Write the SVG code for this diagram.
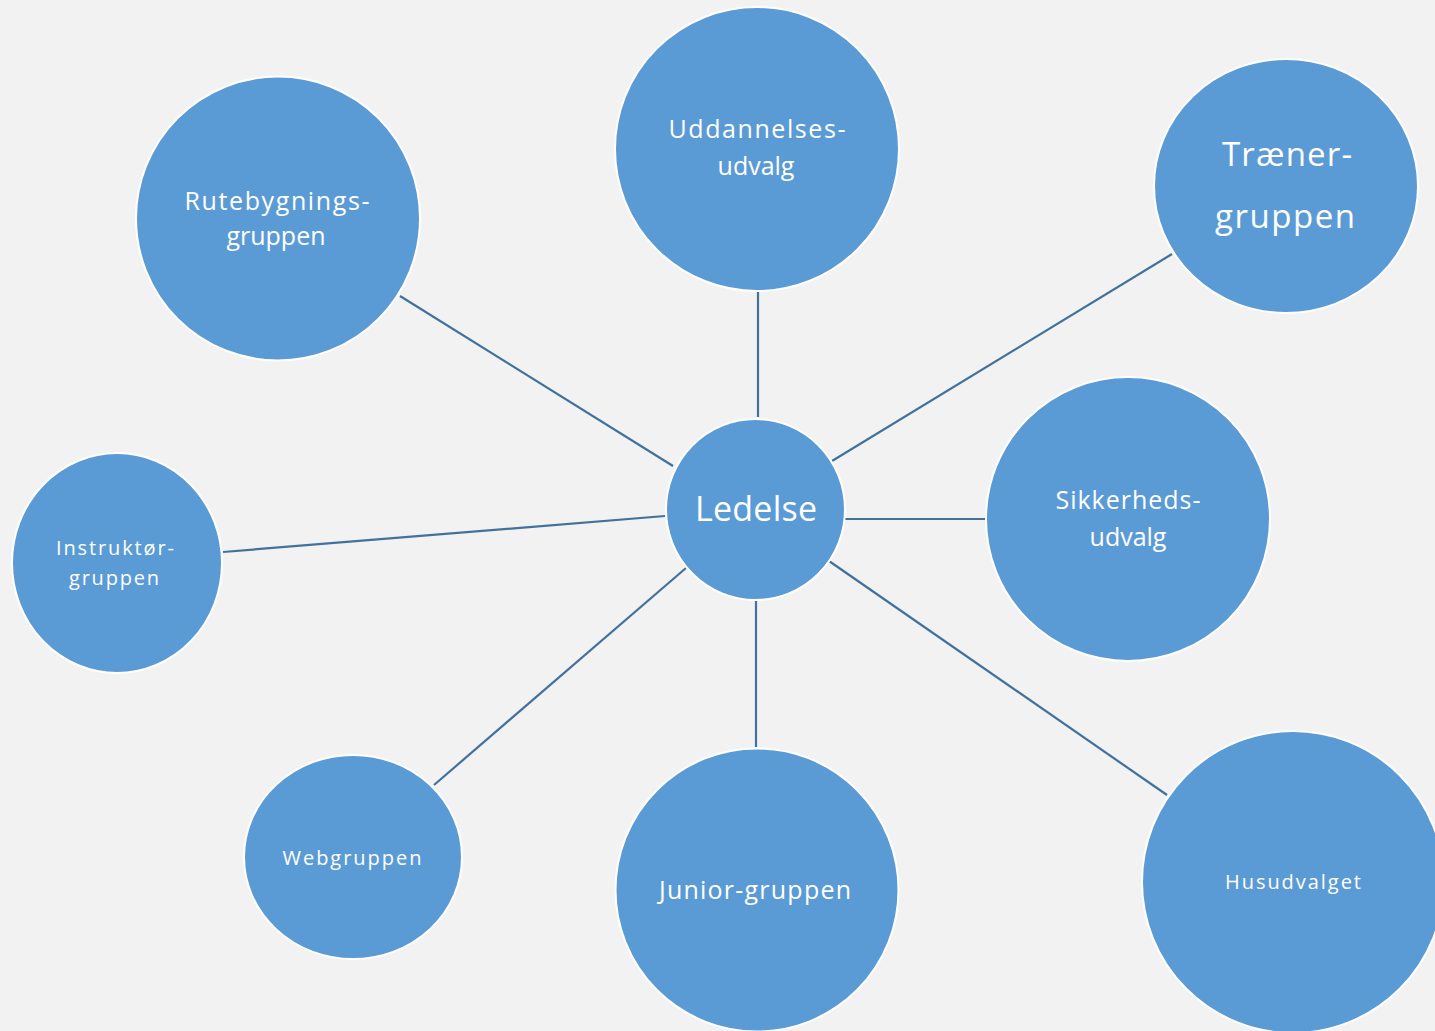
<svg xmlns="http://www.w3.org/2000/svg" width="1435" height="1031" viewBox="0 0 1435 1031">
<style>
.n{fill:#5B9BD5;stroke:#FFFFFF;stroke-width:2}
.t{fill:#FFFFFF;font-family:"Open Sans","Liberation Sans",sans-serif;text-anchor:middle}
.c line{stroke:#41719C;stroke-width:2.2}
</style>
<rect width="1435" height="1031" fill="#F2F2F2"/>
<g class="c" id="connectors">
<line x1="673" y1="466" x2="400" y2="296"/>
<line x1="758" y1="417" x2="758" y2="292"/>
<line x1="832" y1="461" x2="1172" y2="254"/>
<line x1="845" y1="519" x2="985" y2="519"/>
<line x1="665" y1="516" x2="223" y2="552"/>
<line x1="686" y1="568" x2="434" y2="785"/>
<line x1="756" y1="601" x2="756" y2="747"/>
<line x1="829" y1="561" x2="1167" y2="795"/>
</g>
<g id="ledelse"><ellipse class="n" cx="755.5" cy="509.5" rx="89.5" ry="90.5"/><text class="t" x="756" y="521" font-size="34" textLength="122">Ledelse</text></g>
<g id="uddannelses"><circle class="n" cx="757" cy="149" r="142"/><text class="t" font-size="25"><tspan x="757" y="138" textLength="177">Uddannelses-</tspan><tspan x="756" y="175">udvalg</tspan></text></g>
<g id="rutebygnings"><circle class="n" cx="278" cy="218.5" r="142"/><text class="t" font-size="25"><tspan x="277" y="210" textLength="185">Rutebygnings-</tspan><tspan x="276" y="245">gruppen</tspan></text></g>
<g id="traener"><ellipse class="n" cx="1286" cy="186" rx="132" ry="127"/><text class="t" font-size="33"><tspan x="1287" y="166" textLength="130">Træner-</tspan><tspan x="1285" y="228" textLength="140">gruppen</tspan></text></g>
<g id="sikkerheds"><circle class="n" cx="1128" cy="519" r="142"/><text class="t" font-size="25"><tspan x="1128" y="509" textLength="145">Sikkerheds-</tspan><tspan x="1128" y="546">udvalg</tspan></text></g>
<g id="instruktor"><ellipse class="n" cx="117" cy="563" rx="105" ry="110"/><text class="t" font-size="20"><tspan x="115" y="555" textLength="118">Instruktør-</tspan><tspan x="114" y="585" textLength="90">gruppen</tspan></text></g>
<g id="webgruppen"><ellipse class="n" cx="353" cy="857" rx="109" ry="102"/><text class="t" x="352" y="865" font-size="20" textLength="139">Webgruppen</text></g>
<g id="junior"><circle class="n" cx="757" cy="890" r="141.5"/><text class="t" x="755" y="899" font-size="25" textLength="192">Junior-gruppen</text></g>
<g id="husudvalget"><circle class="n" cx="1293" cy="882" r="151"/><text class="t" x="1293" y="889" font-size="20" textLength="136">Husudvalget</text></g>
</svg>
